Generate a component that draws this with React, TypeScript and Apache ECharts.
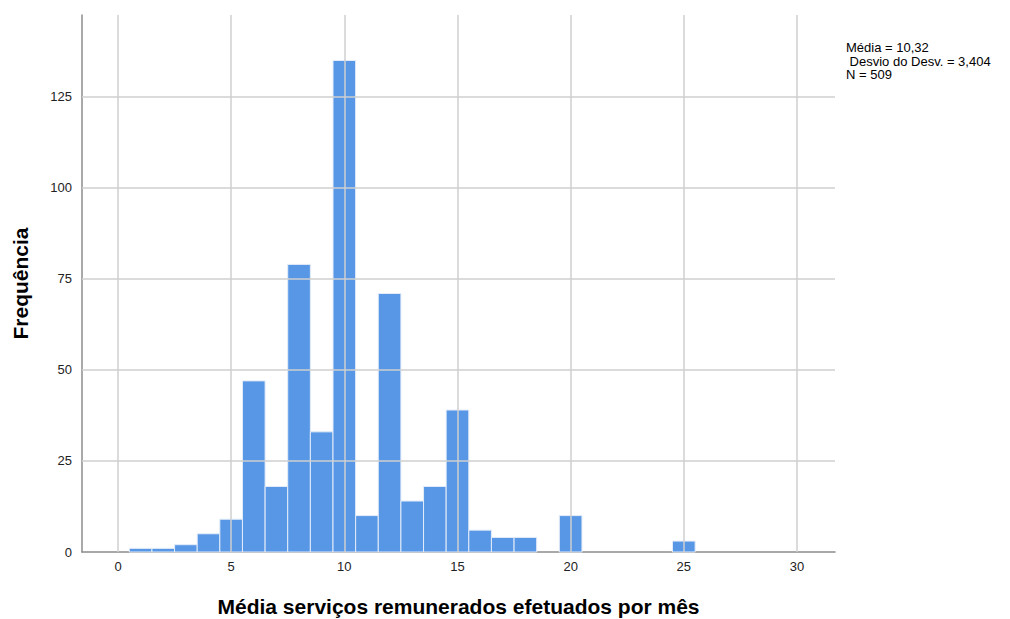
import React, { useEffect, useRef } from "react";
import * as echarts from "echarts";

const binCenters = [1, 2, 3, 4, 5, 6, 7, 8, 9, 10, 11, 12, 13, 14, 15, 16, 17, 18, 19, 20, 21, 22, 23, 24, 25, 26, 27, 28, 29, 30];
const frequencies = [1, 1, 2, 5, 9, 47, 18, 79, 33, 135, 10, 71, 14, 18, 39, 6, 4, 4, 0, 10, 0, 0, 0, 0, 3, 0, 0, 0, 0, 0];
const xTicks = [0, 5, 10, 15, 20, 25, 30];
const yTicks = [0, 25, 50, 75, 100, 125];
const statsLines = ["Média = 10,32", "\u00a0Desvio do Desv. = 3,404", "N = 509"];

const FONT = "'Liberation Sans', Arial, sans-serif";

export default function App() {
  const ref = useRef<HTMLDivElement>(null);
  useEffect(() => {
    if (!ref.current) return;
    const chart = echarts.init(ref.current, null, { renderer: "svg" });
    const data = binCenters.map((c, i) => [c, frequencies[i]]);
    chart.setOption({
      animation: false,
      backgroundColor: "#ffffff",
      textStyle: { fontFamily: FONT },
      title: {
        text: statsLines.join("\n"),
        left: 841,
        top: 36,
        textStyle: { fontSize: 13, fontWeight: "normal", color: "#000", lineHeight: 13.5, fontFamily: FONT },
      },
      grid: { left: 82, right: 175, top: 15, bottom: 67, outerBoundsMode: "none", containLabel: false },
      xAxis: {
        type: "value",
        min: -1.59,
        max: 31.68,
        name: "Média serviços remunerados efetuados por mês",
        nameLocation: "middle",
        nameGap: 44,
        nameTextStyle: { fontSize: 21, fontWeight: "bold", color: "#000", fontFamily: FONT },
        axisLine: { show: true, onZero: false, lineStyle: { color: "#8c8c8c", width: 1.5 } },
        axisTick: { show: false, customValues: xTicks },
        axisLabel: { customValues: xTicks, fontSize: 13, color: "#222", margin: 8, fontFamily: FONT },
        splitLine: { show: false },
      },
      yAxis: {
        type: "value",
        min: 0,
        max: 147.5,
        name: "Frequência",
        nameLocation: "middle",
        nameGap: 51,
        nameTextStyle: { fontSize: 21, fontWeight: "bold", color: "#000", fontFamily: FONT },
        axisLine: { show: true, onZero: false, lineStyle: { color: "#8c8c8c", width: 1.5 } },
        axisTick: { show: false, customValues: yTicks },
        axisLabel: { customValues: yTicks, fontSize: 13, color: "#222", margin: 10, fontFamily: FONT },
        splitLine: { show: false },
      },
      series: [
        {
          type: "line",
          data: [],
          z: 1,
          silent: true,
          markLine: {
            silent: true,
            symbol: "none",
            label: { show: false },
            lineStyle: { color: "#cfcfcf", width: 1.5, type: "solid" },
            data: [
              ...xTicks.map((v) => ({ xAxis: v })),
              ...yTicks.filter((v) => v > 0).map((v) => ({ yAxis: v })),
            ],
          },
        },
        {
          type: "custom",
          z: 3,
          data,
          renderItem: (params: any, api: any) => {
            const x = api.value(0);
            const y = api.value(1);
            if (!y) return null;
            const p1 = api.coord([x - 0.5, y]);
            const p2 = api.coord([x + 0.5, 0]);
            return {
              type: "rect",
              shape: { x: p1[0], y: p1[1], width: p2[0] - p1[0], height: p2[1] - p1[1] },
              style: { fill: "#5897e6", stroke: "#e3ecf8", lineWidth: 1 },
            };
          },
        },
      ],
    });
    return () => chart.dispose();
  }, []);
  return <div ref={ref} style={{ width: 1010, height: 619, position: "absolute", left: 0, top: 0 }} />;
}
